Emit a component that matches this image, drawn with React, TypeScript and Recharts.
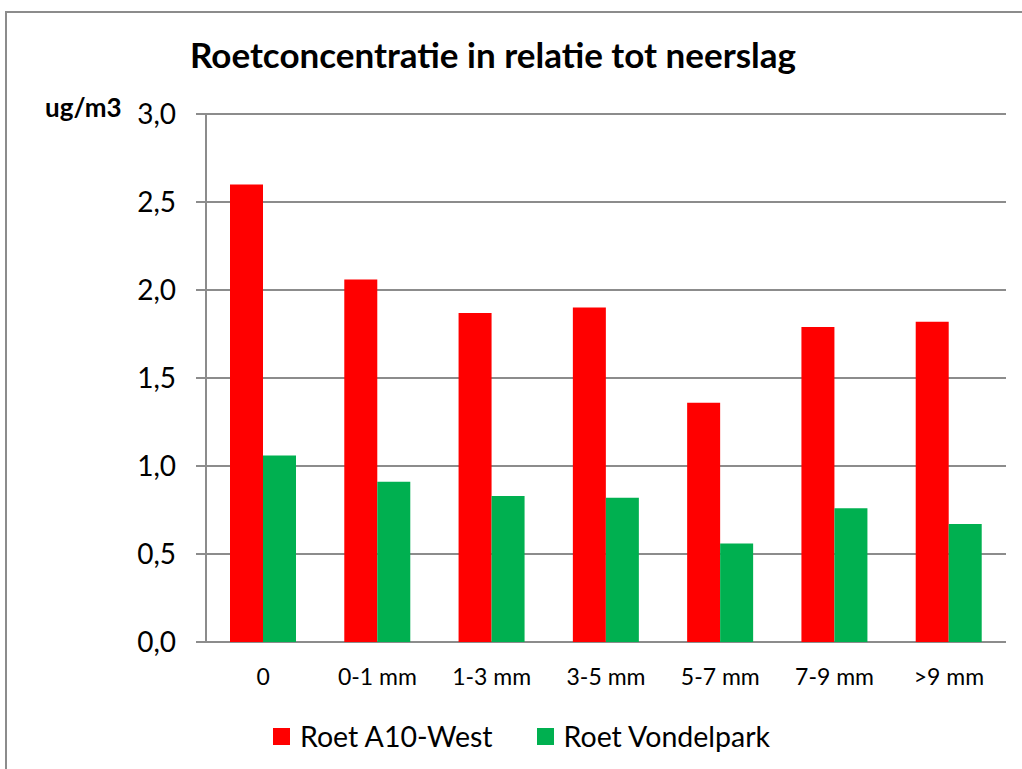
import { BarChart, Bar, XAxis, YAxis, CartesianGrid } from 'recharts';

const categories = ['0', '0-1 mm', '1-3 mm', '3-5 mm', '5-7 mm', '7-9 mm', '>9 mm'];
const roetA10West = [2.6, 2.06, 1.87, 1.9, 1.36, 1.79, 1.82];
const roetVondelpark = [1.06, 0.91, 0.83, 0.82, 0.56, 0.76, 0.67];
const yTicks = [0, 0.5, 1, 1.5, 2, 2.5, 3];
const bandEdges = [0, 1, 2, 3, 4, 5, 6, 7];

const FONT = 'Lato, "Open Sans", sans-serif';
const GRID = '#8c8c8c';

const data = categories.map((cat, i) => ({
  cat,
  a10: roetA10West[i],
  vondel: roetVondelpark[i],
}));

const fmt = (v: number) => v.toFixed(1).replace('.', ',');

export default function App() {
  return (
    <div style={{ position: 'absolute', left: 0, top: 0, width: 1022, height: 769, overflow: 'hidden', background: '#fff', fontFamily: FONT }}>
      {/* frame of the chart area, runs off the right and bottom */}
      <div style={{ position: 'absolute', left: 5, top: 11, width: 2, height: 760, background: GRID }} />
      <div style={{ position: 'absolute', left: 5, top: 11, width: 1020, height: 2, background: GRID }} />
      <div style={{ position: 'absolute', left: 190, top: 33, fontSize: 35, fontWeight: 700, lineHeight: 1.2, whiteSpace: 'nowrap' }}>
        Roetconcentratie in relatie tot neerslag
      </div>
      <div style={{ position: 'absolute', left: 45, top: 92, fontSize: 26, fontWeight: 700, lineHeight: 1.2 }}>ug/m3</div>
      <div style={{ position: 'absolute', left: 0, top: 0 }}>
        <BarChart
          width={1022}
          height={769}
          data={data}
          margin={{ top: 114, right: 16, bottom: 77, left: 0 }}
          barGap={0}
          barCategoryGap="21%"
        >
          <CartesianGrid vertical={false} stroke={GRID} strokeWidth={2} />
          <XAxis
            xAxisId="edges"
            type="number"
            domain={[0, 7]}
            ticks={bandEdges}
            tick={false}
            height={0}
            tickSize={8}
            stroke={GRID}
            strokeWidth={2}
            allowDataOverflow
          />
          <XAxis
            xAxisId="cat"
            dataKey="cat"
            height={50}
            axisLine={false}
            tickLine={false}
            tickSize={0}
            tickMargin={27}
            interval={0}
            tick={{ fontSize: 23, fill: '#000', fontFamily: FONT }}
          />
          <YAxis
            width={206}
            domain={[0, 3]}
            ticks={yTicks}
            tickFormatter={fmt}
            tickSize={10}
            tickMargin={20}
            stroke={GRID}
            strokeWidth={2}
            tick={{ fontSize: 28, fill: '#000', fontFamily: FONT }}
          />
          <Bar xAxisId="cat" dataKey="a10" name="Roet A10-West" fill="#ff0000" isAnimationActive={false} />
          <Bar xAxisId="cat" dataKey="vondel" name="Roet Vondelpark" fill="#00b050" isAnimationActive={false} />
        </BarChart>
      </div>
      <div style={{ position: 'absolute', left: 273, top: 719, display: 'flex', alignItems: 'center', fontSize: 28.5, lineHeight: 1.2 }}>
        <span style={{ width: 17, height: 17, background: '#ff0000', marginRight: 10 }} />
        <span style={{ marginRight: 44 }}>Roet A10-West</span>
        <span style={{ width: 17, height: 17, background: '#00b050', marginRight: 10 }} />
        <span>Roet Vondelpark</span>
      </div>
    </div>
  );
}
